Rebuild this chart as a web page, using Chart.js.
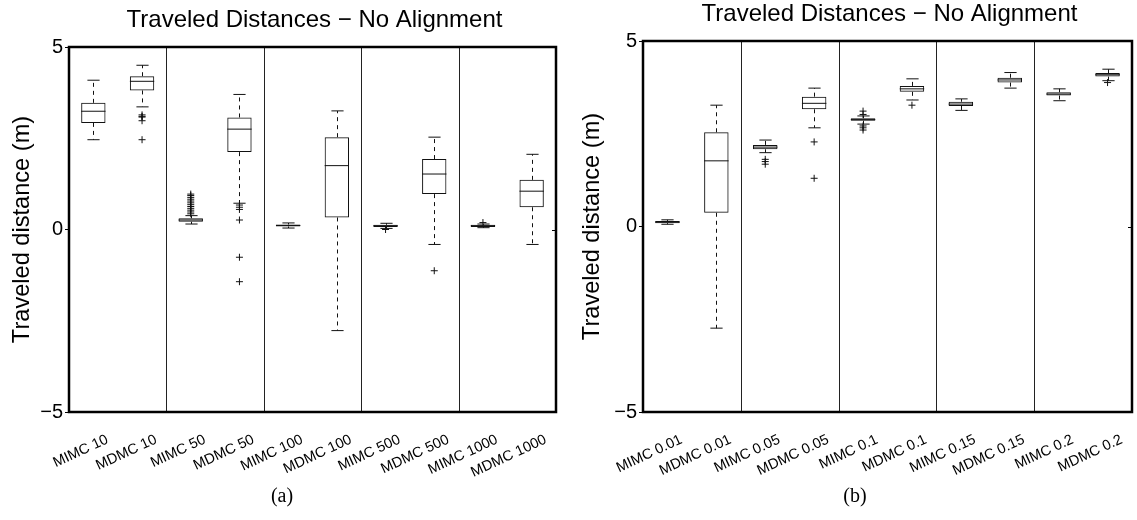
<!DOCTYPE html>
<html>
<head>
<meta charset="utf-8">
<script src="https://cdn.jsdelivr.net/npm/chart.js@4.4.1/dist/chart.umd.min.js"></script>
<style>
  html, body { margin: 0; padding: 0; background: #fff; }
  .panel { position: absolute; top: 0; height: 520px; }
  #panelA { left: 0; width: 568px; }
  #panelB { left: 568px; width: 569px; }
</style>
</head>
<body>
<div class="panel" id="panelA"><canvas id="chartA"></canvas></div>
<div class="panel" id="panelB"><canvas id="chartB"></canvas></div>
<script>
// (a) number of agents
const labelsA = ['MIMC 10', 'MDMC 10', 'MIMC 50', 'MDMC 50', 'MIMC 100', 'MDMC 100', 'MIMC 500', 'MDMC 500', 'MIMC 1000', 'MDMC 1000'];
const upperA  = [4.09, 4.50, 0.38, 3.70, 0.18, 3.25, 0.17, 2.53, 0.15, 2.06];
const q3A     = [3.47, 4.20, 0.31, 3.07, 0.14, 2.53, 0.13, 1.93, 0.13, 1.36];
const medianA = [3.24, 4.06, 0.26, 2.75, 0.11, 1.75, 0.10, 1.52, 0.10, 1.05];
const q1A     = [2.92, 3.81, 0.21, 2.12, 0.08, 0.33, 0.07, 0.97, 0.07, 0.61];
const lowerA  = [2.46, 3.36, 0.15, 0.72, 0.04, -2.77, 0.03, -0.41, 0.05, -0.41];
const outliersA = [
  [],
  [3.14, 3.10, 3.08, 2.98, 2.46],
  [0.43, 0.48, 0.53, 0.58, 0.63, 0.68, 0.73, 0.78, 0.83, 0.88, 0.93, 0.97],
  [0.67, 0.61, 0.55, 0.26, -0.76, -1.43],
  [],
  [],
  [0.00],
  [-1.13],
  [0.19],
  []
];

// (b) noise level
const labelsB = ['MIMC 0.01', 'MDMC 0.01', 'MIMC 0.05', 'MDMC 0.05', 'MIMC 0.1', 'MDMC 0.1', 'MIMC 0.15', 'MDMC 0.15', 'MIMC 0.2', 'MDMC 0.2'];
const upperB  = [0.18, 3.27, 2.33, 3.73, 2.98, 3.98, 3.44, 4.15, 3.71, 4.24];
const q3B     = [0.15, 2.54, 2.20, 3.50, 2.92, 3.79, 3.36, 4.01, 3.62, 4.14];
const medianB = [0.12, 1.77, 2.14, 3.32, 2.88, 3.71, 3.30, 3.95, 3.57, 4.09];
const q1B     = [0.09, 0.37, 2.08, 3.16, 2.85, 3.63, 3.25, 3.88, 3.53, 4.04];
const lowerB  = [0.06, -2.74, 1.99, 2.66, 2.76, 3.41, 3.13, 3.73, 3.39, 3.93];
const outliersB = [
  [],
  [],
  [1.81, 1.75, 1.68],
  [2.28, 1.30],
  [3.11, 3.02, 2.71, 2.66, 2.60],
  [3.27],
  [],
  [],
  [],
  [3.88]
];

const yTicks = [-5, 0, 5];
const sans = "'Liberation Sans', Arial, Helvetica, sans-serif";
const ink = '#111';

function line(ctx, x1, y1, x2, y2) {
  ctx.beginPath();
  ctx.moveTo(x1, y1);
  ctx.lineTo(x2, y2);
  ctx.stroke();
}

// whiskers, medians, group separators and the axes box
function boxPlugin(s) {
  return {
    id: 'boxWhiskers',
    beforeDatasetsDraw(chart) {
      const { ctx, chartArea: a, scales: { x } } = chart;
      ctx.save();
      ctx.strokeStyle = '#222';
      ctx.lineWidth = 1;
      for (let i = 1; i < s.labels.length - 1; i += 2) {
        const px = Math.round((x.getPixelForValue(i) + x.getPixelForValue(i + 1)) / 2) + 0.5;
        line(ctx, px, a.top, px, a.bottom);
      }
      ctx.restore();
    },
    afterDatasetsDraw(chart) {
      const { ctx, scales: { y } } = chart;
      const meta = chart.getDatasetMeta(0);
      ctx.save();
      ctx.strokeStyle = ink;
      ctx.lineWidth = 1;
      meta.data.forEach((bar, i) => {
        const cx = Math.round(bar.x) + 0.5;
        const half = bar.width / 2;
        const cap = half / 2;
        const yU = y.getPixelForValue(s.upper[i]);
        const yL = y.getPixelForValue(s.lower[i]);
        const yQ3 = y.getPixelForValue(s.q3[i]);
        const yQ1 = y.getPixelForValue(s.q1[i]);
        const yM = y.getPixelForValue(s.median[i]);
        ctx.setLineDash([4, 4]);
        line(ctx, cx, yQ3, cx, yU);
        line(ctx, cx, yQ1, cx, yL);
        ctx.setLineDash([]);
        line(ctx, cx - cap, yU, cx + cap, yU);
        line(ctx, cx - cap, yL, cx + cap, yL);
        line(ctx, bar.x - half, yM, bar.x + half, yM);
      });
      ctx.restore();
    },
    afterDraw(chart) {
      const { ctx, chartArea: a, scales: { y } } = chart;
      ctx.save();
      ctx.strokeStyle = '#000';
      ctx.lineWidth = 2.5;
      ctx.strokeRect(a.left, a.top, a.right - a.left, a.bottom - a.top);
      ctx.lineWidth = 1;
      const y0 = Math.round(y.getPixelForValue(0)) + 0.5;
      line(ctx, a.right - 4, y0, a.right, y0);

      ctx.fillStyle = '#000';
      ctx.textAlign = 'center';
      ctx.textBaseline = 'alphabetic';
      ctx.font = '24px ' + sans;
      ctx.fillText(s.title, (a.left + a.right) / 2 + 2, s.titleY);
      ctx.font = "20px 'Liberation Serif', 'DejaVu Serif', serif";
      ctx.textBaseline = 'middle';
      ctx.fillText(s.caption, s.captionX, 497);
      ctx.restore();
    }
  };
}

function makeChart(id, s) {
  const outlierPoints = [];
  s.outliers.forEach((vals, i) => vals.forEach(v => outlierPoints.push({ x: s.labels[i], y: v })));

  return new Chart(document.getElementById(id), {
    type: 'bar',
    data: {
      labels: s.labels,
      datasets: [
        {
          type: 'bar',
          data: s.q1.map((v, i) => [v, s.q3[i]]),
          backgroundColor: 'rgba(255,255,255,0)',
          borderColor: ink,
          borderWidth: 1,
          borderSkipped: false,
          barPercentage: 0.5,
          categoryPercentage: 1
        },
        {
          type: 'line',
          data: outlierPoints,
          showLine: false,
          pointStyle: 'cross',
          pointRadius: 3.5,
          pointBorderWidth: 1,
          borderColor: ink,
          backgroundColor: ink
        }
      ]
    },
    options: {
      responsive: true,
      maintainAspectRatio: false,
      animation: false,
      layout: { padding: { left: 0, right: s.padRight, top: s.top, bottom: 0 } },
      plugins: { legend: { display: false }, tooltip: { enabled: false } },
      scales: {
        x: {
          grid: { display: false, drawTicks: false },
          border: { display: false },
          ticks: {
            autoSkip: false,
            minRotation: 25,
            maxRotation: 25,
            padding: 19,
            labelOffset: 14,
            color: '#000',
            font: { family: sans, size: 14.5 }
          },
          afterFit(scale) { scale.height = 520 - 412; }
        },
        y: {
          min: -5,
          max: 5,
          afterBuildTicks(scale) { scale.ticks = yTicks.map(v => ({ value: v })); },
          ticks: {
            padding: 2,
            color: '#000',
            font: { family: sans, size: 20 },
            callback: v => (v < 0 ? '\u2212' + Math.abs(v) : String(v))
          },
          grid: { display: true, drawOnChartArea: false, drawTicks: true, tickLength: 4, color: '#000' },
          border: { display: false },
          title: {
            display: true,
            text: 'Traveled distance (m)',
            color: '#000',
            font: { family: sans, size: 23.6 },
            padding: { top: s.yTitlePad, bottom: 0 }
          },
          afterFit(scale) { scale.width = s.axisWidth; }
        }
      }
    },
    plugins: [boxPlugin(s)]
  });
}

makeChart('chartA', {
  labels: labelsA, upper: upperA, q3: q3A, median: medianA, q1: q1A, lower: lowerA, outliers: outliersA,
  title: 'Traveled Distances \u2212 No Alignment', titleY: 27, caption: '(a)', captionX: 282,
  top: 47, padRight: 12, axisWidth: 69, yTitlePad: 8
});

makeChart('chartB', {
  labels: labelsB, upper: upperB, q3: q3B, median: medianB, q1: q1B, lower: lowerB, outliers: outliersB,
  title: 'Traveled Distances \u2212 No Alignment', titleY: 21, caption: '(b)', captionX: 287,
  top: 41, padRight: 1, axisWidth: 75, yTitlePad: 10
});
</script>
</body>
</html>
